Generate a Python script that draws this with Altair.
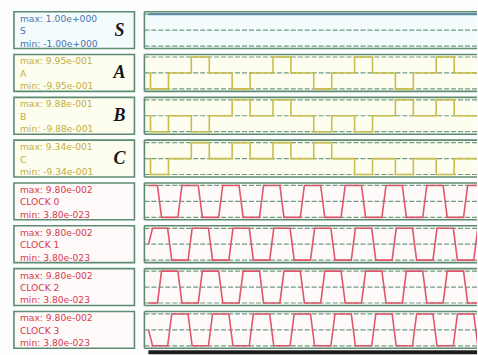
import altair as alt

# ---- channel descriptions -------------------------------------------------
names = ["S", "A", "B", "C", "CLOCK 0", "CLOCK 1", "CLOCK 2", "CLOCK 3"]
tags = ["S", "A", "B", "C", "", "", "", ""]
max_text = ["1.00e+000", "9.95e-001", "9.88e-001", "9.34e-001",
            "9.80e-002", "9.80e-002", "9.80e-002", "9.80e-002"]
min_text = ["-1.00e+000", "-9.95e-001", "-9.88e-001", "-9.34e-001",
            "3.80e-023", "3.80e-023", "3.80e-023", "3.80e-023"]
kinds = ["s", "p", "p", "p", "c", "c", "c", "c"]

# time window shown in the trace panels
T_START, T_END = -0.1, 8.05

# pulse trains: pulse start times, pulse width and polarity of each pulse
pulse_start = [0.05, 1.05, 2.05, 3.05, 4.05, 5.05, 6.05, 7.05]
pulse_width = 0.44
a_sign = [-1, 1, -1, 1, -1, 1, -1, 1]
b_sign = [-1, -1, 1, 1, -1, -1, 1, 1]
c_sign = [-1, 1, 1, 1, 1, -1, -1, -1]

# clock edges (start time of each edge); every edge lasts edge_len
edge_len = 0.1
clk0_fall = [0.22, 1.22, 2.22, 3.22, 4.22, 5.22, 6.22, 7.22]
clk0_rise = [0.72, 1.72, 2.72, 3.72, 4.72, 5.72, 6.72, 7.72]
clk1_fall = [0.47, 1.47, 2.47, 3.47, 4.47, 5.47, 6.47, 7.47]
clk1_rise = [0.0, 0.97, 1.97, 2.97, 3.97, 4.97, 5.97, 6.97, 7.97]
# initial level of each clock as a fraction of its swing
clk_start = [1.0, 0.5, 0.0, 0.5]

# ---- styling --------------------------------------------------------------
BG = "#fbfefd"
BORDER = "#5e8a72"
GRID = "#6f9c80"
TEXT_FONT = "DejaVu Sans"
style = {
    "s": {"text": "#4a72b0", "line": "#5f8ea6", "fill": "#f4fbfc", "lw": 2.2},
    "p": {"text": "#c4ae3c", "line": "#c9bd4c", "fill": "#fdfdf0", "lw": 1.6},
    "c": {"text": "#d6394e", "line": "#e0566a", "fill": "#fffafa", "lw": 1.6},
}
LW, RW, H = 121, 334, 37


def pulse_points(signs, amp):
    pts = [(0.0, 0.0)]
    for s, g in zip(pulse_start, signs):
        pts += [(s, 0.0), (s, g * amp), (s + pulse_width, g * amp), (s + pulse_width, 0.0)]
    pts.append((T_END + 0.2, 0.0))
    return pts


def clock_points(start_frac, ups, downs, lo, hi):
    level = {1: hi, 0: lo}
    edges = sorted([(t, 1) for t in ups] + [(t, 0) for t in downs])
    cur = lo + (hi - lo) * start_frac
    pts = [(0.0, cur)]
    for t, new in edges:
        pts += [(t, cur), (t + edge_len, level[new])]
        cur = level[new]
    pts.append((T_END + 0.2, cur))
    return pts


def trace_points(k):
    lo, hi = float(min_text[k]), float(max_text[k])
    if names[k] == "S":
        return [(0.0, hi), (T_END + 0.2, hi)]
    if names[k] == "A":
        return pulse_points(a_sign, hi)
    if names[k] == "B":
        return pulse_points(b_sign, hi)
    if names[k] == "C":
        return pulse_points(c_sign, hi)
    if names[k] == "CLOCK 0":
        return clock_points(clk_start[0], clk0_rise, clk0_fall, lo, hi)
    if names[k] == "CLOCK 1":
        return clock_points(clk_start[1], clk1_rise, clk1_fall, lo, hi)
    if names[k] == "CLOCK 2":
        return clock_points(clk_start[2], clk0_fall, clk0_rise, lo, hi)
    return clock_points(clk_start[3], clk1_fall, clk1_rise, lo, hi)


def label_panel(k):
    st = style[kinds[k]]
    d = alt.Data(values=[{
        "top": "max: " + max_text[k], "name": names[k],
        "bot": "min: " + min_text[k], "tag": tags[k]}])
    base = alt.Chart(d)
    small = dict(align="left", baseline="middle", font=TEXT_FONT,
                 fontSize=9.2, color=st["text"])
    t1 = base.mark_text(**small).encode(text="top:N", x=alt.value(6), y=alt.value(7))
    t2 = base.mark_text(**small).encode(text="name:N", x=alt.value(6), y=alt.value(19.5))
    t3 = base.mark_text(**small).encode(text="bot:N", x=alt.value(6), y=alt.value(32))
    big = base.mark_text(align="center", baseline="middle", font="Liberation Serif",
                         fontSize=18, fontWeight="bold", fontStyle="italic",
                         color="#151515").encode(text="tag:N", x=alt.value(106), y=alt.value(19))
    return alt.layer(t1, t2, t3, big).properties(
        width=LW, height=H,
        view=alt.ViewBackground(fill=st["fill"], stroke=BORDER, strokeWidth=1.6))


def trace_panel(k, last=False):
    st = style[kinds[k]]
    lo, hi = float(min_text[k]), float(max_text[k])
    pad = (hi - lo) * 2.5 / 32
    ys = alt.Scale(domain=[lo - pad, hi + pad], nice=False, zero=False)
    xs = alt.Scale(domain=[T_START, T_END], nice=False, zero=False)

    grid = alt.Chart(alt.Data(values=[{"g": hi}, {"g": (lo + hi) / 2}, {"g": lo}])).mark_rule(
        color=GRID, strokeWidth=1.2, strokeDash=[5, 2]
    ).encode(y=alt.Y("g:Q", scale=ys, axis=None))

    pts = [{"t": t, "v": v, "i": i} for i, (t, v) in enumerate(trace_points(k))]
    line = alt.Chart(alt.Data(values=pts)).mark_line(
        color=st["line"], strokeWidth=st["lw"], clip=True
    ).encode(
        x=alt.X("t:Q", scale=xs, axis=None),
        y=alt.Y("v:Q", scale=ys, axis=None),
        order=alt.Order("i:Q"),
    )

    one = alt.Data(values=[{"f": 0}])
    edge = dict(color=BORDER, strokeWidth=1.6)
    f_left = alt.Chart(one).mark_rule(**edge).encode(x=alt.value(0), y=alt.value(0), y2=alt.value(H))
    f_top = alt.Chart(one).mark_rule(**edge).encode(x=alt.value(0), x2=alt.value(RW), y=alt.value(0))
    f_bot = alt.Chart(one).mark_rule(**edge).encode(x=alt.value(0), x2=alt.value(RW), y=alt.value(H))
    layers = [grid, line, f_left, f_top, f_bot]
    if last:
        # time-axis strip under the bottom trace
        strip = alt.Chart(one).mark_rect(color="#1d1d1d").encode(
            x=alt.value(4), x2=alt.value(RW), y=alt.value(H + 2), y2=alt.value(H + 6))
        layers.append(strip)
    return alt.layer(*layers).properties(
        width=RW, height=H,
        view=alt.ViewBackground(fill=st["fill"], strokeWidth=0))


rows = [
    alt.hconcat(label_panel(k), trace_panel(k, last=(k == len(names) - 1)), spacing=8)
    for k in range(len(names))
]

chart = alt.vconcat(*rows, spacing=4).properties(
    padding={"left": 13, "top": 10, "right": 0, "bottom": 0},
    background=BG,
).configure_view(strokeWidth=0)

chart.save("out.html", embed_options={"renderer": "svg", "actions": False})
